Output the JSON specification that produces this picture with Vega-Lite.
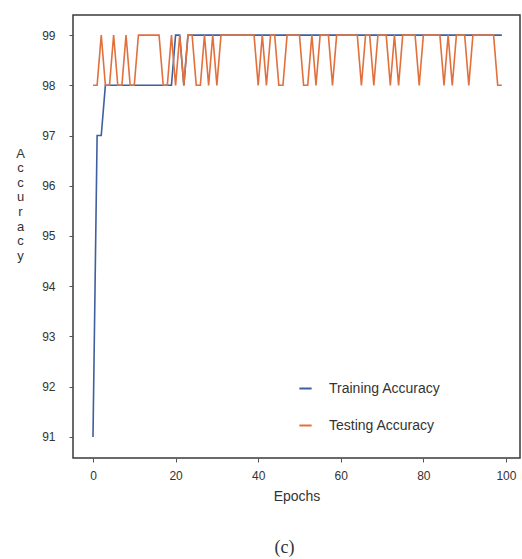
{
  "$schema": "https://vega.github.io/schema/vega-lite/v6.json",
  "autosize": {"type": "none"},
  "padding": {"left": 73, "top": 15, "right": 2, "bottom": 101},
  "width": 447,
  "height": 443,
  "background": "white",
  "config": {
    "font": "Liberation Sans",
    "view": {"stroke": "#3a3a3a", "strokeWidth": 1.5},
    "axis": {"grid": false, "domain": false, "labelColor": "#333", "titleColor": "#333", "tickColor": "#555", "labelFont": "Liberation Sans", "titleFont": "Liberation Sans", "titleFontWeight": "normal"}
  },
  "title": {"text": "(c)", "orient": "bottom", "anchor": "middle", "offset": 36, "dx": -12, "font": "Liberation Serif", "fontSize": 18, "fontWeight": "normal", "color": "#333"},
  "data": {
    "values": [
      {"epoch": 0, "train": 91, "test": 98},
      {"epoch": 1, "train": 97, "test": 98},
      {"epoch": 2, "train": 97, "test": 99},
      {"epoch": 3, "train": 98, "test": 98},
      {"epoch": 4, "train": 98, "test": 98},
      {"epoch": 5, "train": 98, "test": 99},
      {"epoch": 6, "train": 98, "test": 98},
      {"epoch": 7, "train": 98, "test": 98},
      {"epoch": 8, "train": 98, "test": 99},
      {"epoch": 9, "train": 98, "test": 98},
      {"epoch": 10, "train": 98, "test": 98},
      {"epoch": 11, "train": 98, "test": 99},
      {"epoch": 12, "train": 98, "test": 99},
      {"epoch": 13, "train": 98, "test": 99},
      {"epoch": 14, "train": 98, "test": 99},
      {"epoch": 15, "train": 98, "test": 99},
      {"epoch": 16, "train": 98, "test": 99},
      {"epoch": 17, "train": 98, "test": 98},
      {"epoch": 18, "train": 98, "test": 98},
      {"epoch": 19, "train": 98, "test": 99},
      {"epoch": 20, "train": 99, "test": 98},
      {"epoch": 21, "train": 99, "test": 99},
      {"epoch": 22, "train": 98, "test": 98},
      {"epoch": 23, "train": 99, "test": 99},
      {"epoch": 24, "train": 99, "test": 99},
      {"epoch": 25, "train": 99, "test": 98},
      {"epoch": 26, "train": 99, "test": 98},
      {"epoch": 27, "train": 99, "test": 99},
      {"epoch": 28, "train": 99, "test": 98},
      {"epoch": 29, "train": 99, "test": 99},
      {"epoch": 30, "train": 99, "test": 98},
      {"epoch": 31, "train": 99, "test": 99},
      {"epoch": 32, "train": 99, "test": 99},
      {"epoch": 33, "train": 99, "test": 99},
      {"epoch": 34, "train": 99, "test": 99},
      {"epoch": 35, "train": 99, "test": 99},
      {"epoch": 36, "train": 99, "test": 99},
      {"epoch": 37, "train": 99, "test": 99},
      {"epoch": 38, "train": 99, "test": 99},
      {"epoch": 39, "train": 99, "test": 99},
      {"epoch": 40, "train": 99, "test": 98},
      {"epoch": 41, "train": 99, "test": 99},
      {"epoch": 42, "train": 99, "test": 98},
      {"epoch": 43, "train": 99, "test": 99},
      {"epoch": 44, "train": 99, "test": 99},
      {"epoch": 45, "train": 99, "test": 98},
      {"epoch": 46, "train": 99, "test": 98},
      {"epoch": 47, "train": 99, "test": 99},
      {"epoch": 48, "train": 99, "test": 99},
      {"epoch": 49, "train": 99, "test": 99},
      {"epoch": 50, "train": 99, "test": 99},
      {"epoch": 51, "train": 99, "test": 98},
      {"epoch": 52, "train": 99, "test": 98},
      {"epoch": 53, "train": 99, "test": 99},
      {"epoch": 54, "train": 99, "test": 98},
      {"epoch": 55, "train": 99, "test": 99},
      {"epoch": 56, "train": 99, "test": 99},
      {"epoch": 57, "train": 99, "test": 99},
      {"epoch": 58, "train": 99, "test": 98},
      {"epoch": 59, "train": 99, "test": 99},
      {"epoch": 60, "train": 99, "test": 99},
      {"epoch": 61, "train": 99, "test": 99},
      {"epoch": 62, "train": 99, "test": 99},
      {"epoch": 63, "train": 99, "test": 99},
      {"epoch": 64, "train": 99, "test": 99},
      {"epoch": 65, "train": 99, "test": 98},
      {"epoch": 66, "train": 99, "test": 99},
      {"epoch": 67, "train": 99, "test": 99},
      {"epoch": 68, "train": 99, "test": 98},
      {"epoch": 69, "train": 99, "test": 99},
      {"epoch": 70, "train": 99, "test": 99},
      {"epoch": 71, "train": 99, "test": 99},
      {"epoch": 72, "train": 99, "test": 98},
      {"epoch": 73, "train": 99, "test": 99},
      {"epoch": 74, "train": 99, "test": 98},
      {"epoch": 75, "train": 99, "test": 99},
      {"epoch": 76, "train": 99, "test": 99},
      {"epoch": 77, "train": 99, "test": 99},
      {"epoch": 78, "train": 99, "test": 99},
      {"epoch": 79, "train": 99, "test": 98},
      {"epoch": 80, "train": 99, "test": 99},
      {"epoch": 81, "train": 99, "test": 99},
      {"epoch": 82, "train": 99, "test": 99},
      {"epoch": 83, "train": 99, "test": 99},
      {"epoch": 84, "train": 99, "test": 99},
      {"epoch": 85, "train": 99, "test": 98},
      {"epoch": 86, "train": 99, "test": 99},
      {"epoch": 87, "train": 99, "test": 98},
      {"epoch": 88, "train": 99, "test": 99},
      {"epoch": 89, "train": 99, "test": 99},
      {"epoch": 90, "train": 99, "test": 99},
      {"epoch": 91, "train": 99, "test": 98},
      {"epoch": 92, "train": 99, "test": 99},
      {"epoch": 93, "train": 99, "test": 99},
      {"epoch": 94, "train": 99, "test": 99},
      {"epoch": 95, "train": 99, "test": 99},
      {"epoch": 96, "train": 99, "test": 99},
      {"epoch": 97, "train": 99, "test": 99},
      {"epoch": 98, "train": 99, "test": 98},
      {"epoch": 99, "train": 99, "test": 98}
    ]
  },
  "transform": [{"fold": ["train", "test"], "as": ["series", "accuracy"]}],
  "mark": {"type": "line", "strokeWidth": 1.6, "clip": true},
  "encoding": {
    "x": {
      "field": "epoch", "type": "quantitative",
      "scale": {"domain": [-4.84, 103.4], "nice": false, "zero": false},
      "axis": {"values": [0, 20, 40, 60, 80, 100], "title": "Epochs", "titleFontSize": 14, "titlePadding": 8, "labelFontSize": 12, "labelPadding": 8, "tickSize": 4}
    },
    "y": {
      "field": "accuracy", "type": "quantitative",
      "scale": {"domain": [90.58, 99.4], "nice": false, "zero": false},
      "axis": {"values": [91, 92, 93, 94, 95, 96, 97, 98, 99], "title": ["A", "c", "c", "u", "r", "a", "c", "y"], "titleAngle": 0, "titleFontSize": 13, "titleLineHeight": 14.6, "titleAlign": "center", "titleBaseline": "middle", "titleX": -53, "titleY": 138, "labelFontSize": 12, "labelPadding": 14, "tickSize": 4}
    },
    "color": {
      "field": "series", "type": "nominal",
      "scale": {"domain": ["train", "test"], "range": ["#3f5f9e", "#e2703d"]},
      "legend": {
        "title": null, "orient": "none", "legendX": 225, "legendY": 366, "padding": 0,
        "symbolType": "stroke", "symbolSize": 150, "symbolStrokeWidth": 2,
        "labelExpr": "datum.value == 'train' ? 'Training Accuracy' : 'Testing Accuracy'",
        "labelFontSize": 14, "labelColor": "#333", "labelOffset": 16, "rowPadding": 22
      }
    }
  }
}
